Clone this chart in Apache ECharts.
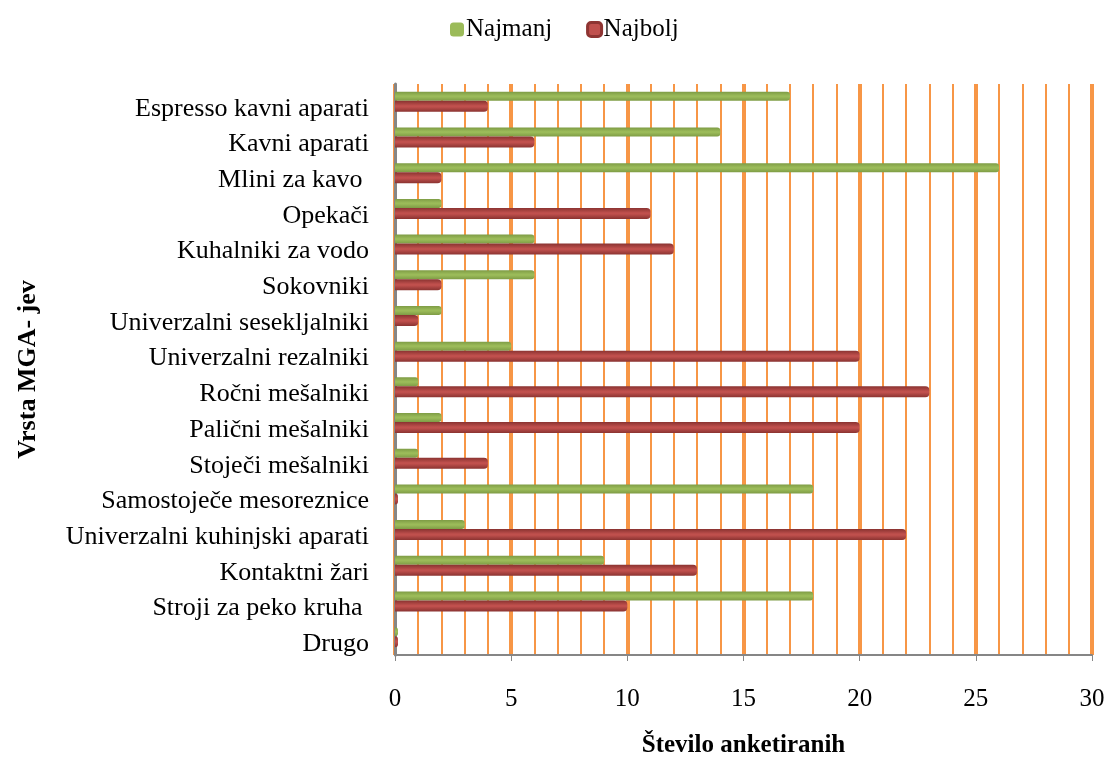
<!DOCTYPE html>
<html>
<head>
<meta charset="UTF-8">
<title>Vrsta MGA-jev</title>
<script src="https://cdn.jsdelivr.net/npm/echarts@6/dist/echarts.min.js"></script>
</head>
<body style="margin:0">
	<div id="chart" style="width: 1107px; height: 760px"></div>
	<script>
	// kategorije od zgoraj navzdol
	var categories = [ 'Espresso kavni aparati', 'Kavni aparati', 'Mlini za kavo ', 'Opekači',
		'Kuhalniki za vodo', 'Sokovniki', 'Univerzalni sesekljalniki', 'Univerzalni rezalniki',
		'Ročni mešalniki', 'Palični mešalniki', 'Stoječi mešalniki', 'Samostoječe mesoreznice',
		'Univerzalni kuhinjski aparati', 'Kontaktni žari', 'Stroji za peko kruha ', 'Drugo' ];
	var najmanj = [ 17, 14, 26, 2, 6, 6, 2, 5, 1, 2, 1, 18, 3, 9, 18, 0 ];
	var najbolj = [ 4, 6, 2, 11, 12, 2, 1, 20, 23, 20, 4, 0, 22, 13, 10, 0 ];
	var xTicks = [ 0, 5, 10, 15, 20, 25, 30 ];

	var font = 'Liberation Serif, Times New Roman, serif';
	var orange = '#F79646';
	var gray = '#868686';

	function barGrad(edge, mid) {
	    return new echarts.graphic.LinearGradient(0, 0, 0, 1, [
		{ offset : 0, color : edge },
		{ offset : 0.45, color : mid },
		{ offset : 0.55, color : mid },
		{ offset : 1, color : edge } ]);
	}

	var chart = echarts.init(document.getElementById('chart'));
	var option = {
	    backgroundColor : '#fff',
	    animation : false,
	    legend : {
		top : 12,
		left : 445,
		itemWidth : 14,
		itemHeight : 14,
		itemGap : 34,
		textStyle : { fontFamily : font, fontSize : 25, color : '#000', padding : [ 0, 0, 0, -3 ] },
		data : [ { name : 'Najmanj', itemStyle : { color : '#9BBB59' } },
			 { name : 'Najbolj', itemStyle : { color : '#C0504D', borderColor : '#8E3432', borderWidth : 3 } } ]
	    },
	    grid : { left : 395, right : 15, top : 84, bottom : 105, outerBoundsMode : 'none' },
	    xAxis : [ {
		type : 'value',
		min : 0,
		max : 30,
		interval : 5,
		name : 'Število anketiranih',
		nameLocation : 'middle',
		nameGap : 78,
		nameTextStyle : { fontFamily : font, fontSize : 25, fontWeight : 'bold', color : '#000' },
		axisLine : { show : true, lineStyle : { color : gray, width : 2 } },
		axisTick : { show : true, length : 6, lineStyle : { color : gray } },
		axisLabel : {
		    margin : 32, fontFamily : font, fontSize : 25, color : '#000',
		    formatter : function(v) { return xTicks.indexOf(v) >= 0 ? String(v) : ''; }
		},
		splitLine : { show : true, lineStyle : { color : orange, width : 4 } }
	    }, {
		type : 'value',
		min : 0,
		max : 30,
		interval : 1,
		position : 'bottom',
		axisLine : { show : false },
		axisTick : { show : false },
		axisLabel : { show : false },
		splitLine : { show : true, lineStyle : { color : orange, width : 2 } }
	    } ],
	    yAxis : {
		type : 'category',
		inverse : true,
		data : categories,
		name : 'Vrsta MGA- jev',
		nameLocation : 'middle',
		nameGap : 354,
		nameRotate : 90,
		nameTextStyle : { fontFamily : font, fontSize : 26, fontWeight : 'bold', color : '#000' },
		axisLine : { show : true, lineStyle : { color : gray, width : 3 } },
		axisTick : { show : false },
		axisLabel : {
		    margin : 26, fontFamily : font, fontSize : 26, color : '#000',
		    formatter : function(v) { return '{c|' + v + '}'; },
		    rich : { c : { fontFamily : font, fontSize : 26, color : '#000', padding : [ 14, 0, 0, 0 ] } }
		}
	    },
	    series : [ {
		name : 'Najmanj',
		type : 'bar',
		xAxisIndex : 0,
		data : najmanj,
		barWidth : 9,
		barGap : '0%',
		barMinHeight : 3,
		itemStyle : { color : barGrad('#7E9C45', '#9BBB59'), borderRadius : [ 0, 3, 3, 0 ] },
		z : 3
	    }, {
		name : 'Najbolj',
		type : 'bar',
		xAxisIndex : 0,
		data : najbolj,
		barWidth : 11,
		barMinHeight : 3,
		itemStyle : { color : barGrad('#8A3331', '#C0504D'), borderRadius : [ 0, 4, 4, 0 ] },
		z : 3
	    } ]
	};
	chart.setOption(option);
	</script>
</body>
</html>
